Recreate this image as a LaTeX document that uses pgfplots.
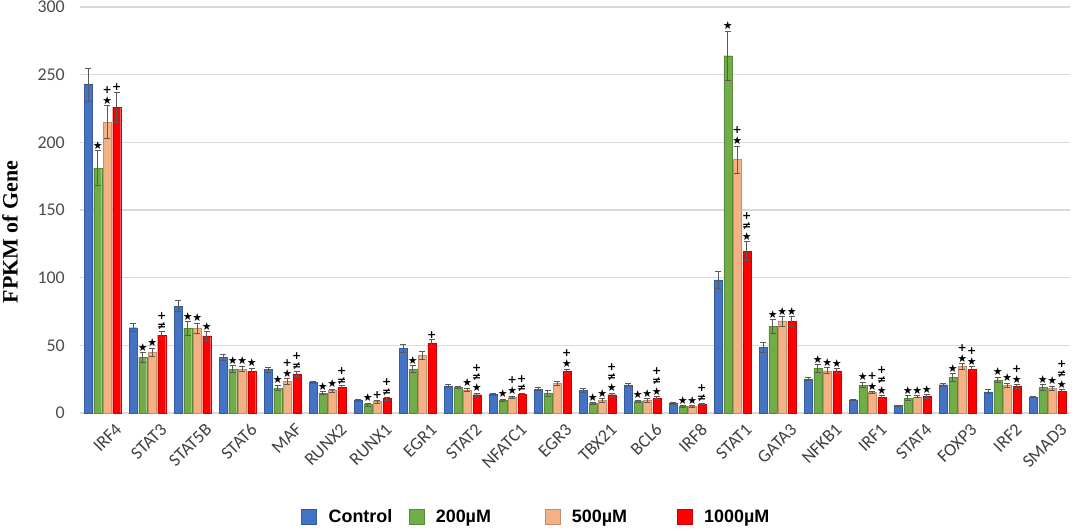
\documentclass[border=0pt]{standalone}
\usepackage{pgfplots}
\pgfplotsset{compat=1.18}
\usepackage{pgfplotstable}
\usepackage{fontspec}
\setmainfont{Carlito}
\newfontfamily\lsans{Liberation Sans}
\newfontfamily\lserif{Liberation Serif}
\newfontfamily\dv{DejaVu Sans}
\definecolor{cblue}{HTML}{4472C4}
\definecolor{cgreen}{HTML}{70AD47}
\definecolor{corange}{HTML}{F4B183}
\definecolor{cred}{HTML}{FF0000}
\definecolor{errgray}{HTML}{595959}
\newcommand\symf{\dv\bfseries\fontsize{11}{11}\selectfont}
\newcommand\St{★}
\newcommand\Pl{+}
\newcommand\SP{\shortstack{+\\★}}
\newcommand\NP{\shortstack{+\\≠}}
\newcommand\SNP{\shortstack{+\\≠\\★}}

\pgfplotstableread{
x y e lab
0 242.6 12 {}
1 63 3 {}
2 79 4 {}
3 41 2 {}
4 32 2 {}
5 22.6 1 {}
6 9.4 0.8 {}
7 48 3 {}
8 20 1.2 {}
9 13.8 0.7 {}
10 17.7 1.2 {}
11 16.5 1.5 {}
12 20.7 1.2 {}
13 6.9 0.6 {}
14 98.3 6 {}
15 48.4 3.7 {}
16 25 1.2 {}
17 9.8 0.4 {}
18 5.4 0.3 {}
19 20.9 1.2 {}
20 15.7 1.5 {}
21 11.8 0.5 {}
}\tcontrol

\pgfplotstableread{
x y e lab
0 181 13 \St
1 41 3.5 \St
2 62.5 5 \St
3 32.5 2.5 \St
4 18.4 2 \St
5 14.7 1.2 \St
6 6.2 1 \St
7 32.5 2.5 \St
8 19 1 {}
9 9.6 0.7 \St
10 14.5 2 {}
11 6.9 0.7 \St
12 8.6 1 \St
13 4.9 0.5 \St
14 264 18 \St
15 64 5 \St
16 33 2.7 \St
17 20.6 2 \St
18 11 1.7 \St
19 26.3 2.7 \St
20 24.3 2 \St
21 18.9 2 \St
}\tlow

\pgfplotstableread{
x y e lab
0 215 12 \SP
1 45 3 \St
2 62.5 4 \St
3 32.5 2 \St
4 23.4 2 \SP
5 16.5 1 \St
6 8.4 1 \Pl
7 42.6 2.7 {}
8 17.2 1.2 \St
9 11.6 0.7 \SP
10 22 1.7 {}
11 9.4 1.2 \St
12 9.4 1.2 \St
13 4.9 0.5 \St
14 187.3 10 \SP
15 67.6 3.7 \St
16 31.2 2.2 \St
17 15.2 0.7 \SP
18 12 0.7 \St
19 34.4 2.2 \SP
20 20.6 1.5 \St
21 18.2 1.5 \St
}\tmid

\pgfplotstableread{
x y e lab
0 226 11 \Pl
1 57.5 3 \NP
2 57 3 \St
3 31 2 \St
4 29 2 \NP
5 19 1.2 \NP
6 10.6 1 \NP
7 51.5 2.7 \Pl
8 13.5 1 \SNP
9 13.8 0.7 \NP
10 30.8 1.7 \SP
11 13.5 1.2 \SNP
12 11 1.2 \SNP
13 6.6 0.6 \NP
14 119.7 7 \SNP
15 67.6 3.7 \St
16 31.2 1.7 \St
17 11.6 1.2 \SNP
18 12.3 1.4 \St
19 32.4 2 \SP
20 19.7 1.2 \SP
21 16 1.2 \SNP
}\thigh

\pgfplotsset{
  mybar/.style={ybar, bar width=8bp, draw=#1!80!black, fill=#1, line width=0.4bp,
    legend image code/.code={\fill[fill=#1,draw=#1!80!black] (0bp,-7.5bp) rectangle (15bp,7.5bp); \path[draw=none,fill=none] (0bp,0bp) -- (25bp,0bp);}},
  myerr/.style={forget plot, sharp plot, draw=none, fill=none, mark=none,
    error bars/y dir=both, error bars/y explicit,
    error bars/error bar style={draw=errgray, line width=0.8bp},
    error bars/error mark options={rotate=90, mark size=3bp, draw=errgray, line width=0.8bp}},
  mylab/.style={forget plot, sharp plot, draw=none, mark=none,
    point meta=explicit symbolic, nodes near coords,
    every node near coord/.append style={anchor=south, inner sep=1.2bp, font=\symf, text=black}},
}

\begin{document}
\begin{tikzpicture}
\begin{axis}[
  scale only axis, width=990bp, height=406bp,
  xmin=-0.5, xmax=21.5, ymin=0, ymax=300,
  ytick={0,50,...,300},
  xtick={0,...,21},
  xticklabels={IRF4,STAT3,STAT5B,STAT6,MAF,RUNX2,RUNX1,EGR1,STAT2,NFATC1,EGR3,TBX21,BCL6,IRF8,STAT1,GATA3,NFKB1,IRF1,STAT4,FOXP3,IRF2,SMAD3},
  xticklabel style={rotate=45, anchor=north east, inner sep=0pt, xshift=2bp, yshift=-15bp, font=\fontsize{18}{20}\selectfont, text=black!75},
  yticklabel style={inner sep=0pt, xshift=-15bp, font=\fontsize{18}{20}\selectfont, text=black!70},
  /pgf/number format/assume math mode=true,
  ymajorgrids, grid style={draw=black!15, line width=1.2bp},
  axis line style={draw=none},
  major tick length=0pt,
  clip=false,
  ylabel={FPKM of Gene},
  every axis y label/.style={at={(axis description cs:-0.0707,0.446)}, rotate=90, anchor=center, font=\lserif\bfseries\fontsize{22}{24}\selectfont},
  legend columns=4,
  legend style={at={(axis description cs:0.461,-0.256)}, anchor=center, draw=none, fill=none,
    font=\lsans\bfseries\fontsize{18}{20}\selectfont},
  legend cell align=left,
]
\addplot[mybar=cblue, bar shift=-14.25bp] table[x=x,y=y]{\tcontrol};
\addlegendentry{\makebox[78bp][l]{Control}}
\addplot[mybar=cgreen, bar shift=-4.75bp] table[x=x,y=y]{\tlow};
\addlegendentry{\makebox[107bp][l]{200µM}}
\addplot[mybar=corange, bar shift=4.75bp] table[x=x,y=y]{\tmid};
\addlegendentry{\makebox[103bp][l]{500µM}}
\addplot[mybar=cred, bar shift=14.25bp] table[x=x,y=y]{\thigh};
\addlegendentry{1000µM}

\addplot[myerr] table[x expr=\thisrow{x}-0.3167, y=y, y error=e]{\tcontrol};
\addplot[myerr] table[x expr=\thisrow{x}-0.1056, y=y, y error=e]{\tlow};
\addplot[myerr] table[x expr=\thisrow{x}+0.1056, y=y, y error=e]{\tmid};
\addplot[myerr] table[x expr=\thisrow{x}+0.3167, y=y, y error=e]{\thigh};

\addplot[mylab] table[x expr=\thisrow{x}-0.1056, y expr=\thisrow{y}+\thisrow{e}, meta=lab]{\tlow};
\addplot[mylab] table[x expr=\thisrow{x}+0.1056, y expr=\thisrow{y}+\thisrow{e}, meta=lab]{\tmid};
\addplot[mylab] table[x expr=\thisrow{x}+0.3167, y expr=\thisrow{y}+\thisrow{e}, meta=lab]{\thigh};
\end{axis}
\pgfresetboundingbox
\useasboundingbox (-80bp,-117bp) rectangle (994bp,413bp);
\end{tikzpicture}
\end{document}
